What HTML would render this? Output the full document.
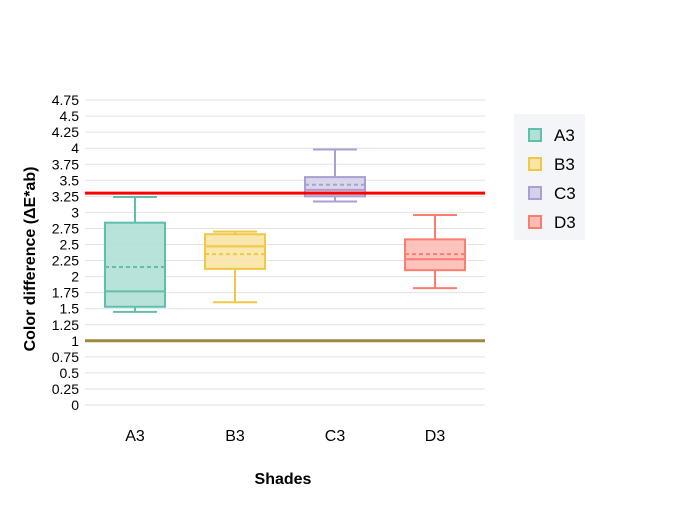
<!DOCTYPE html>
<html><head><meta charset="utf-8"><style>
body{margin:0;background:#fff;font-family:"Liberation Sans",sans-serif;}
svg text{font-family:"Liberation Sans",sans-serif;}
</style></head><body>
<svg id="chart" width="700" height="500" xmlns="http://www.w3.org/2000/svg">
<g id="grid"></g><g id="boxes"></g><g id="lines"></g><g id="axes"></g>
<rect x="514" y="114" width="71" height="126" fill="#f4f5f9"/>
<g id="legend"></g>
<text x="283" y="484" text-anchor="middle" font-size="16" font-weight="bold">Shades</text>
<text transform="translate(35,259) rotate(-90)" text-anchor="middle" font-size="16" font-weight="bold">Color difference (ΔE*ab)</text>
</svg>
<script>
const categories=["A3","B3","C3","D3"];
const lowV=[1.45,1.6,3.17,1.82];
const q1V=[1.53,2.12,3.25,2.1];
const medV=[1.77,2.47,3.35,2.27];
const meanV=[2.15,2.35,3.43,2.35];
const q3V=[2.84,2.66,3.55,2.58];
const highV=[3.24,2.7,3.98,2.96];
const refLines=[3.3,1];
const yTicks=[0,0.25,0.5,0.75,1,1.25,1.5,1.75,2,2.25,2.5,2.75,3,3.25,3.5,3.75,4,4.25,4.5,4.75];
const colors=["#5fbfaa","#f0c846","#a99fd2","#fb7d70"];
const fills=["#b0e0d6","#f8e4a4","#d5d1ea","#fdbcb6"];
const NS="http://www.w3.org/2000/svg";
const x0=85,x1=485,y0=405,yk=64.2;
const yS=v=>y0-v*yk;
const xS=i=>x0+(i+0.5)*(x1-x0)/categories.length;
function mk(p,t,a){const e=document.createElementNS(NS,t);for(const k in a)e.setAttribute(k,a[k]);document.getElementById(p).appendChild(e);return e;}
yTicks.forEach(v=>{
 const l=mk("grid","line",{x1:x0,x2:x1,y1:yS(v),y2:yS(v),stroke:"#e2e2e2","stroke-width":1});
 
 
 const t=mk("axes","text",{x:79,y:yS(v)+5,"text-anchor":"end","font-size":14});
 t.textContent=String(v);
 
 
});
categories.forEach((c,i)=>{
 const cx=xS(i),w=60,cw=44;
 const g=mk("boxes","g",{});
 
 
 const col=colors[i];
 const add=(t,a)=>{const e=document.createElementNS(NS,t);for(const k in a)e.setAttribute(k,a[k]);g.appendChild(e);return e;};
 add("line",{x1:cx,x2:cx,y1:yS(highV[i]),y2:yS(q3V[i]),stroke:col,"stroke-width":2});
 add("line",{x1:cx,x2:cx,y1:yS(q1V[i]),y2:yS(lowV[i]),stroke:col,"stroke-width":2});
 add("line",{x1:cx-cw/2,x2:cx+cw/2,y1:yS(highV[i]),y2:yS(highV[i]),stroke:col,"stroke-width":2});
 add("line",{x1:cx-cw/2,x2:cx+cw/2,y1:yS(lowV[i]),y2:yS(lowV[i]),stroke:col,"stroke-width":2});
 add("rect",{x:cx-w/2,y:yS(q3V[i]),width:w,height:yS(q1V[i])-yS(q3V[i]),fill:fills[i],"fill-opacity":0.9,stroke:col,"stroke-width":2});
 add("line",{x1:cx-w/2,x2:cx+w/2,y1:yS(medV[i]),y2:yS(medV[i]),stroke:col,"stroke-width":2});
 add("line",{x1:cx-w/2,x2:cx+w/2,y1:yS(meanV[i]),y2:yS(meanV[i]),stroke:col,"stroke-width":2,"stroke-dasharray":"4,3"});
 const t=mk("axes","text",{x:cx,y:441,"text-anchor":"middle","font-size":16});
 t.textContent=c;
 
 
 const ly=135+i*29;
 const r=mk("legend","rect",{x:529,y:ly-6,width:12,height:12,fill:fills[i],stroke:col,"stroke-width":2});
 
 
 const lt=mk("legend","text",{x:554,y:ly+6,"font-size":17});
 lt.textContent=c;
 
 
});
const refCols=["#ff0000","#9e8644"];
refLines.forEach((v,i)=>{
 const l=mk("lines","line",{x1:x0,x2:x1,y1:yS(v),y2:yS(v),stroke:refCols[i],"stroke-width":3});
 
 
});
</script>
</body></html>
